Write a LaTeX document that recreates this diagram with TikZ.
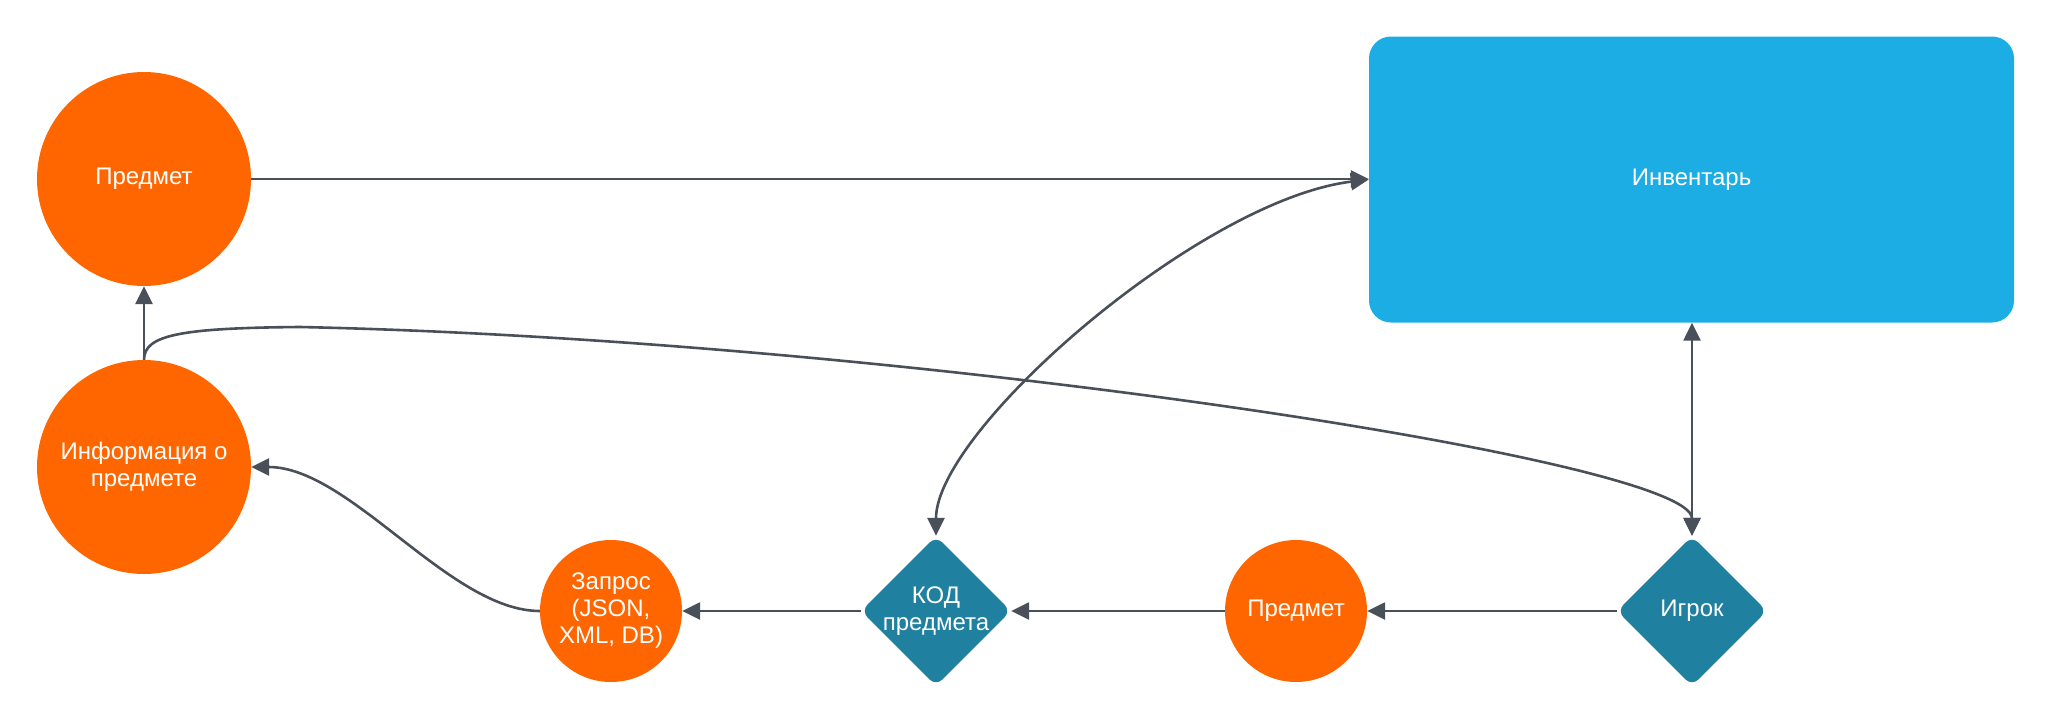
\documentclass[tikz,border=0pt]{standalone}
\usepackage{fontspec}
\setmainfont{Liberation Sans}
\usetikzlibrary{shapes.geometric,arrows.meta}
\definecolor{orng}{HTML}{FF6600}
\definecolor{invblue}{HTML}{1CADE4}
\definecolor{dteal}{HTML}{1F80A0}
\definecolor{edgec}{HTML}{4A5059}
\begin{document}
\begin{tikzpicture}[x=1pt,y=-1pt,
  lbl/.style={text=white, font=\fontsize{24}{27}\selectfont, align=center},
  bigc/.style={circle, fill=orng, minimum size=214pt, inner sep=0pt, lbl},
  smallc/.style={circle, fill=orng, minimum size=142pt, inner sep=0pt, lbl},
  dia/.style={diamond, fill=dteal, minimum width=150pt, minimum height=150pt, inner sep=0pt, rounded corners=9pt},
  conn/.style={draw=edgec, line width=2.6pt, -{Triangle[length=18pt,width=17pt]}},
  bconn/.style={draw=edgec, line width=2.6pt, {Triangle[length=18pt,width=17pt]}-{Triangle[length=18pt,width=17pt]}},
]
\useasboundingbox (0,0) rectangle (2052,720);
\node[bigc] (p1) at (144,179) {Предмет};
\node[bigc] (info) at (144,467) {Информация о\\предмете};
\node[rectangle, fill=invblue, rounded corners=22pt, minimum width=645pt, minimum height=286pt, inner sep=0pt, lbl] (inv) at (1691.5,179.5) {Инвентарь};
\node[smallc] (req) at (611,611) {Запрос\\(JSON,\\XML, DB)};
\node[dia, label={[lbl]center:{КОД\\предмета}}] (code) at (936,611) {};
\node[smallc] (p2) at (1296,611) {Предмет};
\node[dia, label={[lbl]center:{Игрок}}] (player) at (1692,611) {};

\draw[conn] (p1.east) -- (p1.east -| inv.west);
\draw[bconn] (code.north) .. controls (936,430) and (1200,200) .. (inv.west);
\draw[bconn] (inv.south -| player.north) -- (player.north);
\draw[conn] (player.west) -- (p2.east);
\draw[conn] (p2.west) -- (code.east);
\draw[conn] (code.west) -- (req.east);
\draw[conn] (req.west) .. controls (450,611) and (350,467) .. (info.east);
\draw[conn] (info.north) -- (p1.south);
\draw[conn] (info.north) .. controls (144,335) and (180,328) .. (300,327) .. controls (900,340) and (1692,460) .. (player.north);
\end{tikzpicture}
\end{document}
